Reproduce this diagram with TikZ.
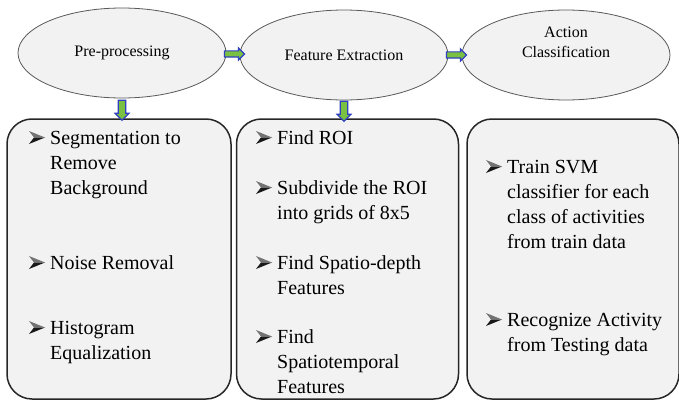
\documentclass[tikz,border=0pt]{standalone}
\usepackage{fontspec}
\setmainfont{Liberation Serif}
\newfontfamily\boxfont{Liberation Serif}[Ligatures=TeX]
\usepackage{tikz}
\usetikzlibrary{positioning,calc,shapes.geometric,shapes.arrows}
\definecolor{CFill}{HTML}{F2F2F2}
\definecolor{CEdge}{HTML}{595959}
\definecolor{CBox}{HTML}{262626}
\definecolor{CBlue}{HTML}{2F3FBF}
\definecolor{CGreen}{HTML}{7AC143}

\begin{document}
\begin{tikzpicture}[x=1pt, y=-1pt,
  stage/.style={ellipse, draw=CEdge, line width=0.8pt, fill=CFill, inner sep=0pt,
                minimum width=208pt, minimum height=90pt, align=center,
                font=\fontsize{16}{20}\selectfont},
  panel/.style={draw=CBox, line width=1.5pt, fill=CFill, rounded corners=25pt,
                minimum height=280pt},
  bitem/.style={anchor=base west, inner sep=0pt, font=\boxfont\fontsize{20}{25}\selectfont},
  harrow/.style={single arrow, draw=CBlue, fill=CGreen, line width=1.2pt,
                 inner sep=2.5pt, minimum width=11pt, minimum height=20pt,
                 single arrow head extend=3pt},
  varrow/.style={harrow, shape border rotate=270, inner sep=3pt, minimum width=14pt},
  bul/.pic={\fill[black!55] (-21,-13) -- (-5,-6.5) -- (-16,-6.5) -- cycle;
            \fill[black!90] (-21,0) -- (-5,-6.5) -- (-16,-6.5) -- cycle;}]
\useasboundingbox (0,0) rectangle (679,401);
% stages
\node[stage] (pre) at (122,53) {Pre-processing};
\node[stage] (fe)  at (344,55) {Feature Extraction};
\node[stage, text depth=26pt] (ac) at (566,55) {Action\\Classification};
% panels
\node[panel, minimum width=224pt] (b1) at (119,259) {};
\node[panel, minimum width=222pt, right=4pt of b1] (b2) {};
\node[panel, minimum width=212pt, right=7pt of b2] (b3) {};
% arrows
\node[harrow] (a1) at ($(pre.east)!0.5!(fe.west)$) {};
\node[harrow] (a2) at ($(fe.east)!0.5!(ac.west)$) {};
\node[varrow] (d1) at ($(pre.south)!0.5!(pre.south|-b1.north)$) {};
\node[varrow] (d2) at ($(fe.south)!0.5!(fe.south|-b2.north)$) {};
\node[varrow] (d3) at ($(ac.south)+(2,0)!0.5!(ac.south|-b3.north)+(2,0)$) {};
% pre-processing items
\node[bitem] (p1) at (50,144) {\begin{tabular}[t]{@{}l@{}}Segmentation to\\Remove\\Background\end{tabular}};
\node[bitem] (p2) at (50,269) {Noise Removal};
\node[bitem] (p3) at (50,334) {\begin{tabular}[t]{@{}l@{}}Histogram\\Equalization\end{tabular}};
% feature extraction items
\node[bitem] (f1) at (277,144) {Find ROI};
\node[bitem] (f2) at (277,194) {\begin{tabular}[t]{@{}l@{}}Subdivide the ROI\\into grids of 8x5\end{tabular}};
\node[bitem] (f3) at (277,269) {\begin{tabular}[t]{@{}l@{}}Find Spatio-depth\\Features\end{tabular}};
\node[bitem] (f4) at (277,343) {\begin{tabular}[t]{@{}l@{}}Find\\Spatiotemporal\\Features\end{tabular}};
% classification items
\node[bitem] (c1) at (507,173) {\begin{tabular}[t]{@{}l@{}}Train SVM\\classifier for each\\class of activities\\from train data\end{tabular}};
\node[bitem] (c2) at (507,326) {\begin{tabular}[t]{@{}l@{}}Recognize Activity\\from Testing data\end{tabular}};
% bullets
\foreach \nd in {p1,p2,p3,f1,f2,f3,f4,c1,c2}
  \pic at (\nd.base west) {bul};
\end{tikzpicture}
\end{document}
